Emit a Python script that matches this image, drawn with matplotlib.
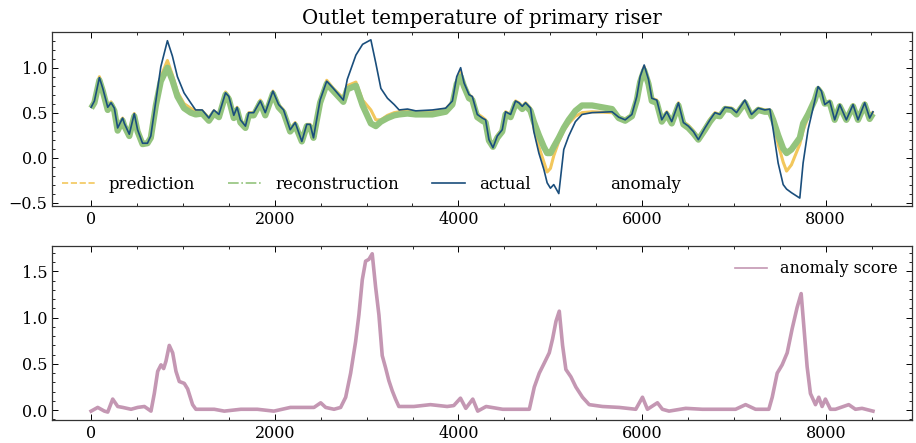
import matplotlib
matplotlib.use("Agg")
import matplotlib.pyplot as plt
from matplotlib.ticker import MultipleLocator

# ---------------- data ----------------
t = [0, 36, 90, 127, 181, 217, 253, 289, 343, 362, 416, 470, 506, 560, 614, 650,
     705, 759, 831, 885, 940, 1012, 1084, 1138, 1210, 1283, 1337, 1392, 1464, 1500,
     1554, 1590, 1626, 1681, 1717, 1771, 1843, 1897, 1980, 2042, 2096, 2168, 2223,
     2295, 2349, 2386, 2422, 2494, 2566, 2638, 2747, 2790, 2884, 2957, 3047, 3101,
     3156, 3228, 3301, 3355, 3446, 3536, 3717, 3862, 3935, 3982, 4025, 4062, 4116,
     4152, 4206, 4261, 4297, 4333, 4377, 4424, 4478, 4514, 4569, 4623, 4659, 4696,
     4732, 4786, 4822, 4877, 4931, 4967, 5003, 5039, 5094, 5148, 5202, 5275, 5347,
     5456, 5674, 5746, 5817, 5890, 5944, 5980, 6024, 6071, 6107, 6161, 6216, 6270,
     6324, 6397, 6451, 6505, 6560, 6614, 6686, 6741, 6795, 6849, 6904, 6976, 7030,
     7121, 7193, 7266, 7338, 7393, 7429, 7483, 7538, 7575, 7628, 7719, 7755, 7809,
     7882, 7918, 7954, 7991, 8045, 8099, 8154, 8226, 8299, 8353, 8426, 8480, 8516]

actual = [0.56, 0.63, 0.89, 0.77, 0.56, 0.61, 0.55, 0.33, 0.44, 0.38, 0.26, 0.49, 0.31, 0.16, 0.16, 0.24,
          0.63, 1.01, 1.30, 1.13, 0.90, 0.72, 0.61, 0.53, 0.53, 0.44, 0.53, 0.48, 0.72, 0.68,
          0.47, 0.56, 0.42, 0.35, 0.50, 0.50, 0.63, 0.50, 0.74, 0.59, 0.53, 0.31, 0.39,
          0.18, 0.37, 0.37, 0.22, 0.64, 0.85, 0.77, 0.64, 0.87, 1.14, 1.26, 1.31, 1.05,
          0.77, 0.66, 0.59, 0.53, 0.54, 0.52, 0.53, 0.55, 0.63, 0.90, 1.00, 0.83, 0.70,
          0.68, 0.48, 0.44, 0.42, 0.20, 0.11, 0.24, 0.31, 0.51, 0.48, 0.63, 0.61, 0.57,
          0.61, 0.55, 0.29, 0.05, -0.13, -0.28, -0.34, -0.30, -0.40, 0.09, 0.24, 0.40, 0.48,
          0.50, 0.51, 0.45, 0.42, 0.48, 0.68, 0.90, 1.03, 0.87, 0.66, 0.64, 0.42, 0.51,
          0.40, 0.61, 0.39, 0.35, 0.29, 0.20, 0.33, 0.42, 0.50, 0.48, 0.56, 0.55, 0.50,
          0.64, 0.48, 0.55, 0.53, 0.54, 0.31, -0.06, -0.30, -0.35, -0.39, -0.45, -0.06, 0.31,
          0.63, 0.79, 0.74, 0.59, 0.63, 0.42, 0.59, 0.42, 0.59, 0.42, 0.61, 0.44, 0.51]

prediction = [0.57, 0.64, 0.90, 0.78, 0.57, 0.62, 0.55, 0.34, 0.44, 0.38, 0.27, 0.49, 0.32, 0.17, 0.17, 0.24,
              0.60, 0.90, 1.08, 0.92, 0.73, 0.60, 0.55, 0.52, 0.52, 0.44, 0.52, 0.48, 0.73, 0.68,
              0.47, 0.56, 0.42, 0.36, 0.50, 0.50, 0.64, 0.50, 0.74, 0.59, 0.53, 0.32, 0.39,
              0.20, 0.37, 0.37, 0.24, 0.64, 0.86, 0.77, 0.66, 0.80, 0.84, 0.64, 0.53, 0.42,
              0.42, 0.47, 0.50, 0.51, 0.52, 0.51, 0.51, 0.54, 0.62, 0.86, 0.95, 0.82, 0.70,
              0.67, 0.49, 0.45, 0.42, 0.22, 0.14, 0.25, 0.32, 0.51, 0.48, 0.63, 0.61, 0.57,
              0.61, 0.55, 0.33, 0.12, -0.05, -0.16, -0.12, 0.02, 0.18, 0.30, 0.38, 0.46, 0.50,
              0.51, 0.50, 0.45, 0.43, 0.48, 0.67, 0.88, 1.01, 0.86, 0.66, 0.64, 0.43, 0.51,
              0.41, 0.61, 0.40, 0.36, 0.30, 0.22, 0.34, 0.43, 0.50, 0.48, 0.56, 0.55, 0.51,
              0.63, 0.49, 0.55, 0.53, 0.53, 0.40, 0.15, -0.05, -0.15, -0.08, 0.15, 0.30, 0.45,
              0.66, 0.78, 0.74, 0.61, 0.63, 0.44, 0.59, 0.44, 0.59, 0.44, 0.61, 0.45, 0.51]

reconstruction = [0.55, 0.61, 0.86, 0.74, 0.53, 0.59, 0.52, 0.30, 0.41, 0.35, 0.24, 0.46, 0.29, 0.15, 0.16, 0.22,
                  0.58, 0.85, 1.00, 0.86, 0.68, 0.55, 0.50, 0.48, 0.49, 0.41, 0.49, 0.45, 0.70, 0.65,
                  0.44, 0.53, 0.39, 0.33, 0.47, 0.47, 0.61, 0.47, 0.71, 0.56, 0.50, 0.29, 0.36,
                  0.18, 0.35, 0.34, 0.22, 0.61, 0.82, 0.74, 0.62, 0.76, 0.80, 0.58, 0.38, 0.35,
                  0.40, 0.44, 0.47, 0.48, 0.49, 0.48, 0.48, 0.51, 0.59, 0.82, 0.90, 0.79, 0.66,
                  0.64, 0.45, 0.41, 0.39, 0.19, 0.12, 0.22, 0.29, 0.48, 0.45, 0.60, 0.58, 0.54,
                  0.58, 0.52, 0.40, 0.25, 0.12, 0.05, 0.05, 0.12, 0.22, 0.33, 0.42, 0.52, 0.58,
                  0.58, 0.54, 0.44, 0.41, 0.46, 0.64, 0.84, 0.97, 0.82, 0.63, 0.61, 0.40, 0.48,
                  0.38, 0.58, 0.37, 0.33, 0.27, 0.20, 0.31, 0.40, 0.47, 0.46, 0.54, 0.53, 0.48,
                  0.61, 0.46, 0.53, 0.51, 0.51, 0.42, 0.25, 0.10, 0.05, 0.09, 0.22, 0.38, 0.48,
                  0.64, 0.76, 0.71, 0.60, 0.61, 0.42, 0.57, 0.42, 0.57, 0.42, 0.59, 0.43, 0.49]

t_score = [0, 72, 145, 181, 235, 290, 344, 435, 507, 580, 652, 688, 725, 761, 790, 815,
           851, 888, 924, 960, 1014, 1051, 1105, 1141, 1341, 1450, 1630, 1810, 1990, 2170,
           2427, 2500, 2554, 2645, 2717, 2772, 2826, 2880, 2916, 2953, 2989, 3025, 3061,
           3098, 3134, 3170, 3206, 3242, 3279, 3315, 3351, 3514, 3695, 3877, 3949, 4022,
           4080, 4156, 4210, 4301, 4482, 4663, 4772, 4826, 4880, 4935, 4989, 5025, 5062,
           5098, 5134, 5170, 5225, 5279, 5351, 5424, 5569, 5750, 5931, 6004, 6058, 6167,
           6221, 6293, 6475, 6656, 6837, 7018, 7127, 7235, 7380, 7417, 7471, 7525, 7580,
           7634, 7688, 7732, 7760, 7797, 7833, 7888, 7924, 7960, 7996, 8051, 8105, 8250,
           8323, 8395, 8514]

anomaly_score = [-0.01, 0.03, -0.01, -0.02, 0.12, 0.04, 0.03, 0.01, 0.03, 0.04, -0.01, 0.18, 0.42, 0.49, 0.45, 0.53,
                 0.70, 0.62, 0.42, 0.31, 0.29, 0.23, 0.06, 0.01, 0.01, -0.01, 0.01, 0.01, -0.01, 0.03,
                 0.03, 0.08, 0.03, 0.01, 0.03, 0.14, 0.40, 0.74, 1.03, 1.41, 1.61, 1.63, 1.69,
                 1.33, 1.03, 0.59, 0.46, 0.32, 0.21, 0.12, 0.04, 0.04, 0.06, 0.04, 0.05, 0.13,
                 0.02, 0.12, -0.01, 0.04, 0.01, 0.01, 0.01, 0.25, 0.40, 0.51, 0.62, 0.77, 0.96,
                 1.07, 0.70, 0.44, 0.36, 0.25, 0.14, 0.06, 0.04, 0.03, 0.01, 0.14, 0.01, 0.08,
                 0.01, -0.01, 0.02, 0.01, 0.01, 0.01, 0.06, 0.01, 0.01, 0.14, 0.40, 0.49, 0.62,
                 0.88, 1.11, 1.26, 0.92, 0.47, 0.18, 0.06, 0.14, 0.04, 0.12, 0.01, 0.01, 0.06,
                 0.01, 0.02, -0.01]

title = "Outlet temperature of primary riser"

# ---------------- style ----------------
plt.rcParams.update({
    "font.family": "DejaVu Serif",
    "font.size": 11.5,
    "xtick.direction": "in",
    "ytick.direction": "in",
    "xtick.top": True,
    "ytick.right": True,
    "xtick.minor.visible": True,
    "ytick.minor.visible": True,
    "xtick.major.size": 4,
    "ytick.major.size": 4,
    "xtick.minor.size": 2,
    "ytick.minor.size": 2,
    "xtick.major.width": 0.7,
    "ytick.major.width": 0.7,
    "xtick.minor.width": 0.6,
    "ytick.minor.width": 0.6,
    "axes.linewidth": 0.9,
    "axes.edgecolor": "#333333",
})

c_pred = "#f2c75c"
c_rec = "#93c47d"
c_act = "#1a4e7c"
c_score = "#c497b3"

fig = plt.figure(figsize=(9.16, 4.43), dpi=100)
ax1 = fig.add_axes([0.0568, 0.535, 0.9389, 0.393])
ax2 = fig.add_axes([0.0568, 0.052, 0.9389, 0.393])

# top panel
ax1.plot(t, prediction, color=c_pred, lw=2.2, ls="-", solid_capstyle="butt")
ax1.plot(t, prediction, color=c_pred, lw=1.0, ls="--", label="prediction")
ax1.plot(t, reconstruction, color=c_rec, lw=4.5, ls="-", solid_capstyle="butt")
ax1.plot(t, reconstruction, color=c_rec, lw=1.0, ls="-.", label="reconstruction")
ax1.plot(t, actual, color=c_act, lw=1.2, label="actual")
ax1.plot([], [], color="none", label="anomaly")
ax1.set_title(title, fontsize=14.2, pad=6)
ax1.xaxis.set_major_locator(MultipleLocator(2000))
ax1.xaxis.set_minor_locator(MultipleLocator(500))
ax1.yaxis.set_major_locator(MultipleLocator(0.5))
ax1.yaxis.set_minor_locator(MultipleLocator(0.1))
ax1.legend(loc="lower left", ncol=4, frameon=False, borderaxespad=0.2,
           bbox_to_anchor=(0.0, 0.02), fontsize=12, handletextpad=0.8,
           columnspacing=2.0)

# bottom panel
ax2.plot(t_score, anomaly_score, color=c_score, lw=2.6, label="anomaly score")
ax2.xaxis.set_major_locator(MultipleLocator(2000))
ax2.xaxis.set_minor_locator(MultipleLocator(500))
ax2.yaxis.set_major_locator(MultipleLocator(0.5))
ax2.yaxis.set_minor_locator(MultipleLocator(0.1))
ax2.legend(loc="upper right", frameon=False, handlelength=2.0)

for leg in [ax1.get_legend(), ax2.get_legend()]:
    for line in leg.get_lines():
        line.set_linewidth(1.2)

fig.savefig("out.png", dpi=100)
